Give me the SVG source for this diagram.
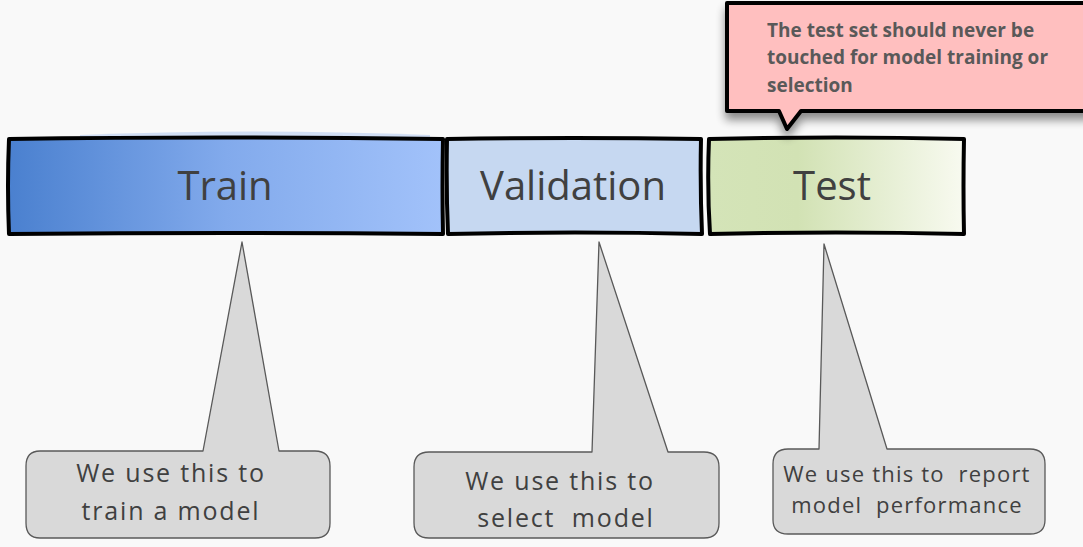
<svg xmlns="http://www.w3.org/2000/svg" width="1083" height="547" viewBox="0 0 1083 547">
<defs>
<linearGradient id="gTrain" x1="0" y1="0" x2="1" y2="0">
<stop offset="0" stop-color="#4A80CF"/>
<stop offset="0.5" stop-color="#82AAEC"/>
<stop offset="1" stop-color="#A2C2FA"/>
</linearGradient>
<linearGradient id="gTest" x1="0" y1="0" x2="1" y2="0">
<stop offset="0" stop-color="#D4E4B8"/>
<stop offset="0.35" stop-color="#D2E2B4"/>
<stop offset="1" stop-color="#F8FAF0"/>
</linearGradient>
<filter id="shadow" x="-10%" y="-20%" width="130%" height="160%">
<feGaussianBlur in="SourceAlpha" stdDeviation="5"/>
<feOffset dx="0" dy="7" result="b"/>
<feComponentTransfer><feFuncA type="linear" slope="0.45"/></feComponentTransfer>
<feMerge><feMergeNode/><feMergeNode in="SourceGraphic"/></feMerge>
</filter>
</defs>
<style>
.box{stroke:#000;stroke-width:4;stroke-linejoin:round}
.big{font-family:"Open Sans","DejaVu Sans",sans-serif;font-size:40px;fill:#404040;text-anchor:middle}
.call{fill:#D9D9D9;stroke:#595959;stroke-width:1.3;stroke-linejoin:round}
.ct{font-family:"Open Sans","DejaVu Sans",sans-serif;font-size:25px;fill:#404040;text-anchor:middle;letter-spacing:1.8px;white-space:pre}
.ct3{font-family:"Open Sans","DejaVu Sans",sans-serif;font-size:22px;fill:#404040;text-anchor:middle;letter-spacing:1.2px;white-space:pre}
.note{font-family:"Open Sans","DejaVu Sans",sans-serif;font-size:19px;font-weight:bold;fill:#595959}
</style>
<rect x="0" y="0" width="1083" height="547" fill="#F9F9F9"/>

<g id="train">
<path d="M80,135 Q250,128 430,135 L430,138 L80,138 Z" fill="#A9C4F0" opacity="0.5"/>
<path class="box" fill="url(#gTrain)" d="M9,139 Q220,136 443,139 Q442,187 443,234 Q230,232 9,234 Q7,186 9,139 Z"/>
<text class="big" x="225" y="200">Train</text>
</g>

<g id="validation">
<path class="box" fill="#C6D8F1" d="M447,139 Q575,137 701,139 Q700,187 702,234 Q575,231 448,234 Q446,187 447,139 Z"/>
<text class="big" x="573" y="200">Validation</text>
</g>

<g id="test">
<path class="box" fill="url(#gTest)" d="M709,139 Q835,136 964,139 Q963,187 964,234 Q835,231 710,234 Q707,187 709,139 Z"/>
<text class="big" x="832" y="200">Test</text>
</g>

<g id="note">
<path filter="url(#shadow)" fill="#FFBFBF" stroke="#000" stroke-width="4" stroke-linejoin="round" d="M727,3 L1090,3 L1090,111 L801,111 L787,129 L779,111 L727,111 Z"/>
<text class="note" x="767" y="37">The test set should never be</text>
<text class="note" x="767" y="64">touched for model training or</text>
<text class="note" x="767" y="92">selection</text>
</g>

<g id="connectors">
</g>

<g id="call-train">
<path class="call" d="M40,451 L203,451 L242,242 L279,451 L315,451 Q330,451 330,466 L330,523 Q330,538 315,538 L40,538 Q26,538 26,523 L26,466 Q26,451 40,451 Z"/>
<text class="ct" x="171" y="482">We use this to</text>
<text class="ct" x="171" y="520">train a model</text>
</g>

<g id="call-validation">
<path class="call" d="M429,452 L592,452 L599,242 L668,452 L704,452 Q719,452 719,467 L719,523 Q719,538 704,538 L429,538 Q414,538 414,523 L414,467 Q414,452 429,452 Z"/>
<text class="ct" x="560" y="490">We use this to</text>
<text class="ct" x="566" y="527">select  model</text>
</g>

<g id="call-test">
<path class="call" d="M788,449 L819,449 L824,244 L887,449 L1030,449 Q1045,449 1045,464 L1045,520 Q1045,534 1030,534 L788,534 Q773,534 773,520 L773,464 Q773,449 788,449 Z"/>
<text class="ct3" x="907" y="482">We use this to  report</text>
<text class="ct3" x="907" y="513">model  performance</text>
</g>
</svg>
